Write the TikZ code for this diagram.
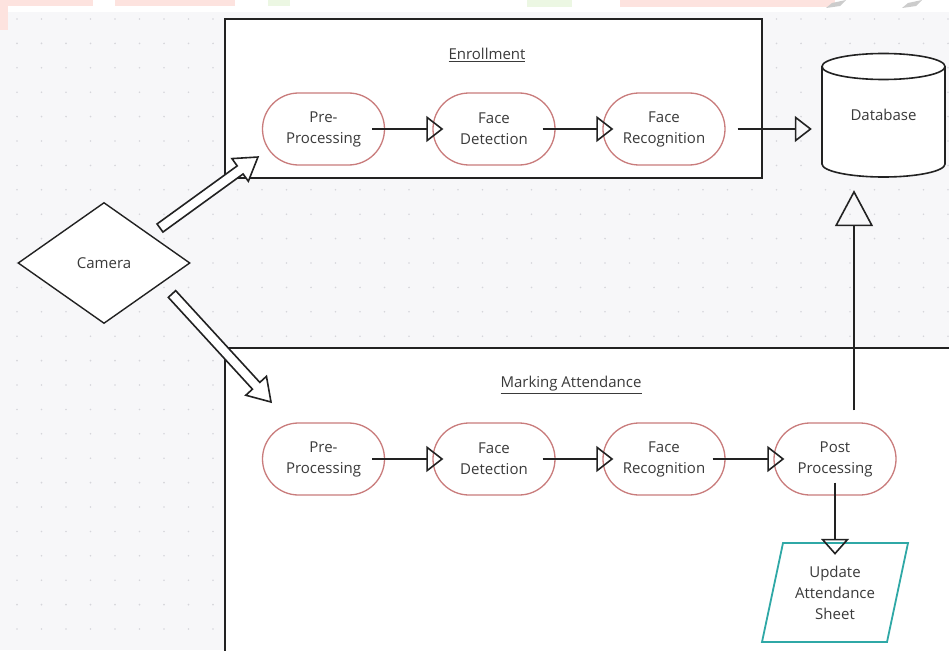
\documentclass[tikz,border=0pt]{standalone}
\usepackage{fontspec}
\setmainfont{Open Sans}
\usetikzlibrary{arrows.meta,shapes.geometric,shapes.misc,calc}
\definecolor{bgc}{HTML}{F7F7F9}
\definecolor{dotc}{HTML}{D6D6DB}
\definecolor{ovalc}{HTML}{C97C7C}
\definecolor{tealc}{HTML}{2FA8A6}
\definecolor{txt}{HTML}{3A3A3A}
\definecolor{lc}{HTML}{222222}
\definecolor{wpink}{HTML}{FDE3DF}
\definecolor{wgreen}{HTML}{ECF7E3}
\newcommand\hollowarrow[2]{%
  \path let \p1=($(#2)-(#1)$) in \pgfextra{%
    \pgfmathparse{atan2(\y1,\x1)}\xdef\harang{\pgfmathresult}%
    \pgfmathparse{veclen(\x1,\y1)}\xdef\harlen{\pgfmathresult}};
  \draw[harrow, shift={(#1)}, rotate=\harang]
    (0pt,-5pt) -- (\harlen pt-22pt,-5pt) -- (\harlen pt-22pt,-14pt) -- (\harlen pt,0pt)
    -- (\harlen pt-22pt,14pt) -- (\harlen pt-22pt,5pt) -- (0pt,5pt) -- cycle;
}
\begin{document}
\begin{tikzpicture}[x=1pt,y=-1pt,
  font=\fontsize{15}{21}\selectfont,
  proc/.style={rounded rectangle, draw=ovalc, line width=1.3pt, fill=white,
    minimum width=122pt, minimum height=72pt, align=center, text=txt, inner sep=0pt},
  boxc/.style={draw=lc, line width=2.2pt, fill=white, inner sep=0pt},
  conn/.style={draw=lc, line width=1.5pt, -{Triangle[open, length=17pt, width=26pt, line width=1.6pt]}},
  harrow/.style={draw=lc, line width=1.6pt, fill=white, line join=miter},
  title/.style={text=txt}]
\useasboundingbox (0,0) rectangle (949,650);
\clip (0,0) rectangle (949,650);
% background
\fill[white] (0,0) rectangle (949,650);
\fill[bgc] (0,12) rectangle (949,650);
\fill[wpink] (0,0) rectangle (93,6);
\fill[wpink] (0,0) rectangle (8,30);
\fill[wpink] (115,0) rectangle (235,6);
\fill[wgreen] (268,0) rectangle (290,6);
\fill[wgreen] (527,0) rectangle (572,7);
\fill[wpink] (620,0) rectangle (835,7);
\fill[gray!40] (826,8) -- (832,3) -- (846,0) -- (840,6) -- cycle;
\fill[gray!40] (902,8) -- (908,3) -- (922,0) -- (916,6) -- cycle;
\foreach \xx in {17,41.5,...,949}
  \foreach \yy in {19,43.4,...,650}
    \fill[dotc] (\xx,\yy) circle (0.9pt);
% containers
\node[boxc, minimum width=537pt, minimum height=159pt] (enr) at (493.5,98.5) {};
\node[boxc, minimum width=760pt, minimum height=330pt] (mark) at (605,513) {};
\node[title] (enrt) at (487,55) {\underline{Enrollment}};
\node[title] (markt) at (571,385) {\underline{Marking Attendance}};
% enrollment row
\node[proc] (e1) at (323.5,129) {Pre-\\Processing};
\node[proc] (e2) at (494,129) {Face\\Detection};
\node[proc] (e3) at (664,129) {Face\\Recognition};
% database
\node[minimum width=123pt, minimum height=124pt, inner sep=0pt, text=txt] (db) at (883.5,115) {};
\draw[lc, line width=1.6pt, fill=white]
  (822,66.5) -- (822,164) arc[start angle=180, end angle=360, x radius=61.5pt, y radius=13pt]
  -- (945,66.5);
\draw[lc, line width=1.6pt, fill=white] (883.5,66.5) ellipse[x radius=61.5pt, y radius=13pt];
\node[text=txt] (dbt) at (db.center) {Database};
% camera
\node[diamond, draw=lc, line width=1.4pt, fill=white, minimum width=172pt, minimum height=121pt,
  inner sep=0pt, text=txt] (cam) at (104,263) {Camera};
% marking row
\node[proc] (m1) at (323.5,459) {Pre-\\Processing};
\node[proc] (m2) at (494,459) {Face\\Detection};
\node[proc] (m3) at (664,459) {Face\\Recognition};
\node[proc] (m4) at (835,459) {Post\\Processing};
% update sheet
\node[minimum width=125pt, minimum height=99pt, inner sep=0pt, align=center, text=txt] (upd) at (835,592.5) {Update\\Attendance\\Sheet};
\draw[tealc, line width=1.8pt] (783,543) -- (908,543) -- (887,642) -- (762,642) -- cycle;
% connectors
\coordinate (dbin) at (e3.east -| db.west);
\draw[conn] ([xshift=-13pt]e1.east) -- ([xshift=11pt]e2.west);
\draw[conn] ([xshift=-13pt]e2.east) -- ([xshift=11pt]e3.west);
\draw[conn] ([xshift=12pt]e3.east) -- ([xshift=-10pt]dbin);
\draw[conn] ([xshift=-13pt]m1.east) -- ([xshift=11pt]m2.west);
\draw[conn] ([xshift=-13pt]m2.east) -- ([xshift=11pt]m3.west);
\draw[conn] ([xshift=-13pt]m3.east) -- ([xshift=11pt]m4.west);
\draw[draw=lc, line width=1.5pt, -{Triangle[open, length=36pt, width=38pt, line width=1.6pt]}]
  ([xshift=19pt,yshift=12pt]m4.north) -- ([xshift=-29.5pt,yshift=-13pt]db.south);
\draw[draw=lc, line width=1.5pt, -{Triangle[open, length=16pt, width=28pt, line width=1.6pt]}]
  ([yshift=13pt]m4.south) -- ([yshift=-12pt]upd.north);
% hollow arrows from camera
\coordinate (t1) at (160,228);
\coordinate (h1) at (258,157);
\coordinate (t2) at (172,294);
\coordinate (h2) at (271,402);
\hollowarrow{t1}{h1}
\hollowarrow{t2}{h2}
\end{tikzpicture}
\end{document}
